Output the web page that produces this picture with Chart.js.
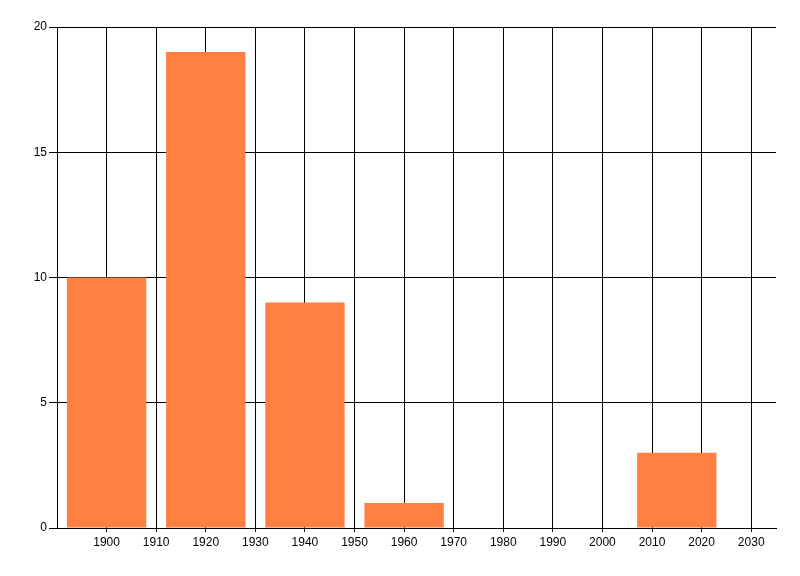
<!DOCTYPE html>
<html>
<head>
<meta charset="utf-8">
<script src="https://cdn.jsdelivr.net/npm/chart.js@4/dist/chart.umd.min.js"></script>
<style>
    html, body { margin: 0; padding: 0; background: #fff; }
</style>
</head>
<body>
<canvas id="chart" width="800" height="576"></canvas>
<script>
const years = [1900, 1920, 1940, 1960, 2015];
const counts = [10, 19, 9, 1, 3];
const xTicks = [1900, 1910, 1920, 1930, 1940, 1950, 1960, 1970, 1980, 1990, 2000, 2010, 2020, 2030];
const yTicks = [0, 5, 10, 15, 20];

const tickFont = { family: '"Liberation Sans", Arial, sans-serif', size: 12 };

new Chart(document.getElementById('chart'), {
    type: 'bar',
    data: {
        datasets: [{
            data: years.map((y, i) => ({ x: y, y: counts[i] })),
            backgroundColor: 'rgb(255, 128, 64)',
            borderWidth: 0,
            // width is measured against the 10-year tick step, so 1.6 gives 16-year bars
            barPercentage: 1.6,
            categoryPercentage: 1,
        }],
    },
    options: {
        responsive: false,
        animation: false,
        layout: {
            padding: { top: 27, right: 24, left: 0, bottom: 0 },
        },
        plugins: {
            legend: { display: false },
            tooltip: { enabled: false },
        },
        scales: {
            x: {
                type: 'linear',
                offset: false,
                min: 1890,
                max: 2035,
                grid: {
                    offset: false,
                    color: '#000',
                    lineWidth: 1,
                    tickLength: 4,
                },
                border: { color: '#000', width: 1 },
                ticks: {
                    color: '#000',
                    font: tickFont,
                    padding: 3,
                    maxRotation: 0,
                    autoSkip: false,
                    callback: v => String(v),
                },
                afterBuildTicks: axis => {
                    axis.ticks = xTicks.map(v => ({ value: v }));
                },
                afterFit: axis => {
                    axis.height = 48;
                },
            },
            y: {
                min: 0,
                max: 20,
                grid: {
                    color: '#000',
                    lineWidth: 1,
                    tickLength: 8,
                },
                border: { color: '#000', width: 1 },
                ticks: {
                    color: '#000',
                    font: tickFont,
                    padding: 2,
                },
                afterBuildTicks: axis => {
                    axis.ticks = yTicks.map(v => ({ value: v }));
                },
                afterFit: axis => {
                    axis.width = 57;
                },
            },
        },
    },
});
</script>
</body>
</html>
